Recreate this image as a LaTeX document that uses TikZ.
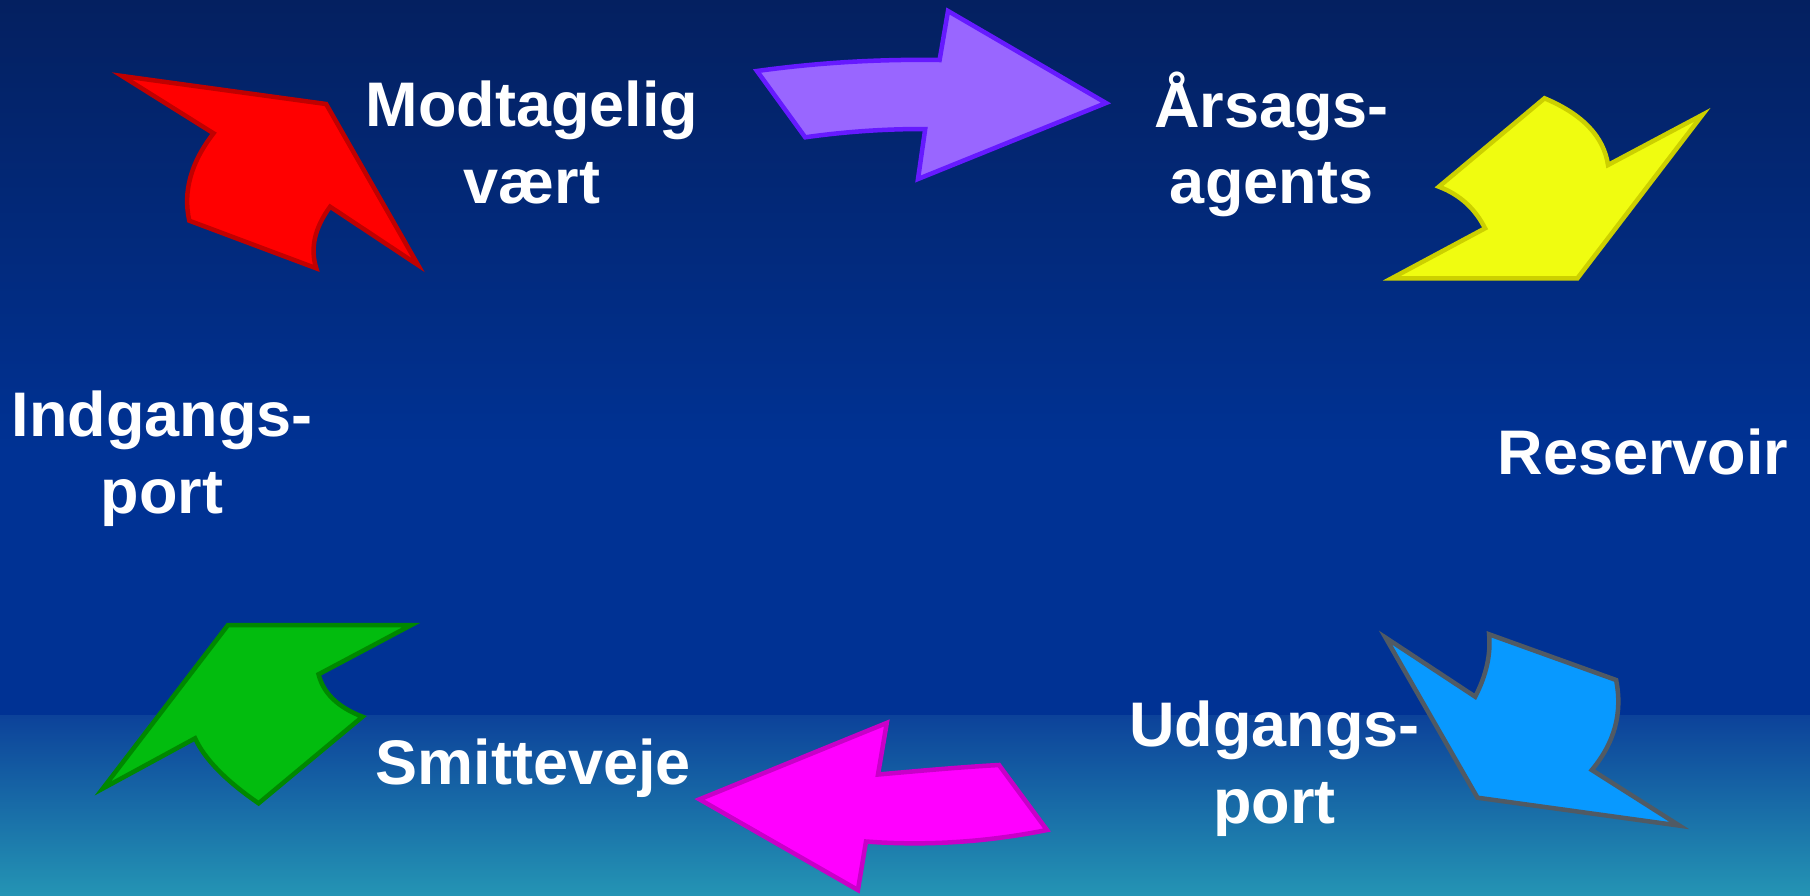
\documentclass[tikz,border=0pt]{standalone}
\usepackage{fontspec}
\setmainfont{Liberation Sans}
\definecolor{bgA}{RGB}{4,32,96}
\definecolor{bgB}{RGB}{0,50,148}
\definecolor{bgC}{RGB}{12,66,154}
\definecolor{bgD}{RGB}{36,148,180}
\definecolor{redF}{RGB}{255,0,0}
\definecolor{redS}{RGB}{192,0,0}
\definecolor{purF}{RGB}{153,102,255}
\definecolor{purS}{RGB}{102,26,255}
\definecolor{yelF}{RGB}{240,252,16}
\definecolor{yelS}{RGB}{204,208,0}
\definecolor{bluF}{RGB}{8,153,255}
\definecolor{bluS}{RGB}{80,90,100}
\definecolor{magF}{RGB}{255,0,255}
\definecolor{magS}{RGB}{200,0,200}
\definecolor{grnF}{RGB}{2,188,14}
\definecolor{grnS}{RGB}{0,136,0}
\begin{document}
\begin{tikzpicture}[x=1pt,y=-1pt,
  lbl/.style={text=white, font=\fontsize{63}{76.5}\selectfont\bfseries, align=center, inner sep=0pt, anchor=base},
  blockarrow/.style={line width=4.5pt, line join=miter}]
\useasboundingbox (0,0) rectangle (1810,895);
\shade[top color=bgA, bottom color=bgB] (0,0) rectangle (1810,451);
\fill[bgB] (0,450) rectangle (1810,716);
\shade[top color=bgC, bottom color=bgD] (0,715) rectangle (1810,895);

% red arrow
\draw[blockarrow, fill=redF, draw=redS]
  (122,76) -- (326.1,104) -- (418.1,265.1) -- (330.1,206.7)
  .. controls (314.6,227.9) and (310,248.4) .. (316.3,268.3) -- (189.3,220.7)
  .. controls (182.8,191.6) and (190.9,162.4) .. (213.5,133.3) -- cycle;
% purple arrow
\draw[blockarrow, fill=purF, draw=purS]
  (757,71) .. controls (817.5,62.7) and (878.3,59) .. (939.6,60) -- (948,11) -- (1106,103)
  -- (918,179) -- (925.2,129) .. controls (884.9,128.9) and (844.9,131.7) .. (805.2,137.3) -- cycle;
% yellow arrow
\draw[blockarrow, fill=yelF, draw=yelS]
  (1544.5,98.3) .. controls (1582.7,114.3) and (1603.8,136.6) .. (1608,165) -- (1702.4,114.8)
  -- (1577.4,278.3) -- (1391.7,278.3) -- (1485,228.3)
  .. controls (1475,208.4) and (1459.7,194.6) .. (1438.9,186.7) -- cycle;
% blue arrow
\draw[blockarrow, fill=bluF, draw=bluS]
  (1385.5,637.6) -- (1475.2,696.7) .. controls (1486.3,675.2) and (1490.9,654.4) .. (1489.1,634.3)
  -- (1616.1,680) .. controls (1622.7,712.7) and (1614.6,742.7) .. (1591.8,770)
  -- (1679.4,825.6) -- (1477.5,797.7) -- cycle;
% magenta arrow
\draw[blockarrow, fill=magF, draw=magS]
  (886.8,722.9) -- (699.5,799.3) -- (857.9,890) -- (866,841.5)
  .. controls (925.7,846) and (986,842.2) .. (1047,830) -- (999,765)
  .. controls (958.7,767.2) and (918,771) .. (878,774.5) -- cycle;
% green arrow
\draw[blockarrow, fill=grnF, draw=grnS]
  (228,625) -- (411.4,625) -- (318.6,674.3) .. controls (323.2,693.1) and (337.8,707.2) .. (362.5,716.7)
  -- (258.6,803.3) .. controls (225.6,780.6) and (204.5,758.9) .. (195.1,738.3) -- (102.8,788.5) -- cycle;

\node[lbl] (modt) at (532,203.2) {Modtagelig\\vært};
\node[lbl] (arsag) at (1271.5,203.7) {Årsags-\\agents};
\node[lbl] (reservoir) at (1643,474) {Reservoir};
\node[lbl] (udgang) at (1274.4,823.3) {Udgangs-\\port};
\node[lbl] (smitte) at (533.3,784.3) {Smitteveje};
\node[lbl] (indgang) at (162,513.3) {Indgangs-\\port};
\end{tikzpicture}
\end{document}
